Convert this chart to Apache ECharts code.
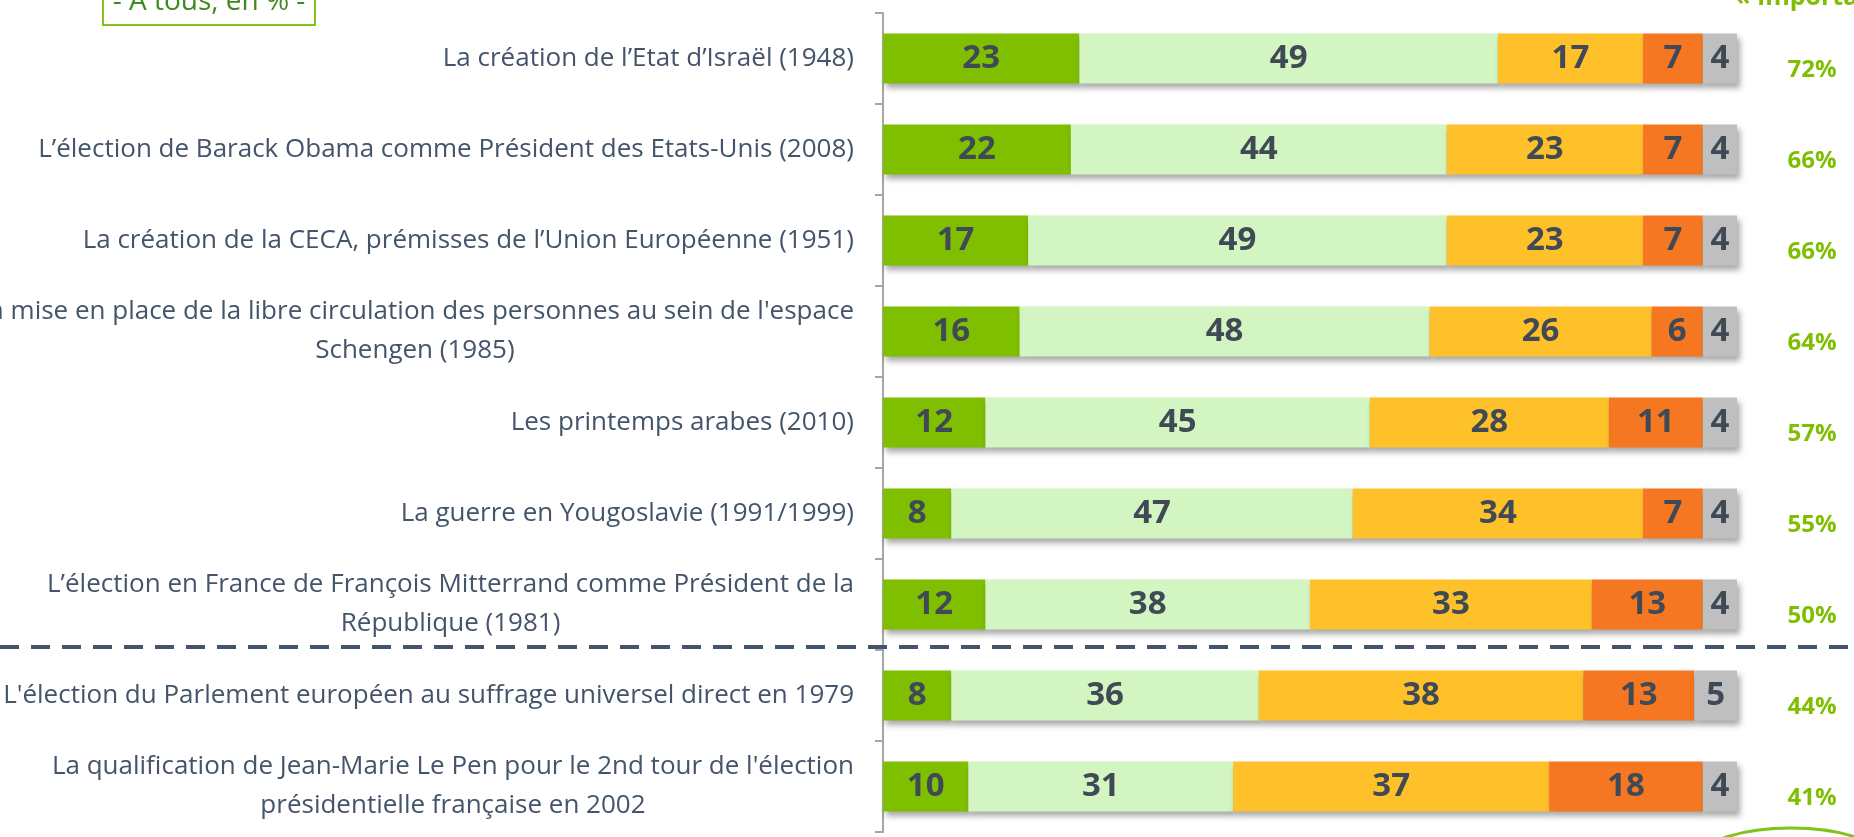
<!DOCTYPE html>
<html>
<head>
<meta charset="utf-8">
<title>Evénements importants</title>
<script src="https://cdn.jsdelivr.net/npm/echarts@6/dist/echarts.min.js"></script>
<style>
  html, body { margin: 0; padding: 0; background: #fff; }
  #chart { width: 1854px; height: 837px; }
</style>
</head>
<body>
<div id="chart"></div>
<script>
// catégories (de haut en bas)
const categories = [
  'La création de l’Etat d’Israël (1948)',
  'L’élection de Barack Obama comme Président des Etats-Unis (2008)',
  'La création de la CECA, prémisses de l’Union Européenne (1951)',
  "La mise en place de la libre circulation des personnes au sein de l'espace\nSchengen (1985)",
  'Les printemps arabes (2010)',
  'La guerre en Yougoslavie (1991/1999)',
  'L’élection en France de François Mitterrand comme Président de la\nRépublique (1981)',
  "L'élection du Parlement européen au suffrage universel direct en 1979",
  "La qualification de Jean-Marie Le Pen pour le 2nd tour de l'élection\nprésidentielle française en 2002"
]
const tresImportant = [23, 22, 17, 16, 12, 8, 12, 8, 10]
const assezImportant = [49, 44, 49, 48, 45, 47, 38, 36, 31]
const peuImportant = [17, 23, 23, 26, 28, 34, 33, 38, 37]
const pasImportant = [7, 7, 7, 6, 11, 7, 13, 13, 18]
const nsp = [4, 4, 4, 4, 4, 4, 4, 5, 4]
const totalImportant = ['72%', '66%', '66%', '64%', '57%', '55%', '50%', '44%', '41%']

const textColor = '#44546A'
const font = 'Open Sans'

let chart = echarts.init(document.getElementById('chart'))

function barSeries (name, data, color) {
  return {
    name: name,
    type: 'bar',
    stack: 'total',
    barWidth: 50,
    data: data,
    itemStyle: {
      color: color,
      shadowColor: 'rgba(0,0,0,0.35)',
      shadowBlur: 6,
      shadowOffsetX: 3,
      shadowOffsetY: 4
    },
    label: {
      show: true,
      position: 'inside',
      color: '#404A56',
      fontFamily: font,
      fontWeight: 'bold',
      fontSize: 33
    }
  }
}

chart.setOption({
  animation: false,
  backgroundColor: '#fff',
  grid: {
    left: 883,
    right: 117,
    top: 13,
    bottom: 5,
    containLabel: false,
    outerBoundsMode: 'none'
  },
  xAxis: {
    type: 'value',
    min: 0,
    max: 100,
    show: false
  },
  yAxis: [
    {
      type: 'category',
      inverse: true,
      data: categories,
      offset: 1,
      axisLine: { show: true, lineStyle: { color: '#A6A6A6', width: 2 } },
      axisTick: { show: true, length: 8, lineStyle: { color: '#A6A6A6', width: 2 } },
      splitLine: { show: false },
      axisLabel: {
        interval: 0,
        margin: 28,
        align: 'right',
        formatter: function (v) {
          return v.split('\n').map(function (s) { return '{c|' + s + '}' }).join('\n')
        },
        rich: {
          c: {
            align: 'center',
            color: textColor,
            fontFamily: font,
            fontSize: 26,
            lineHeight: 39
          }
        }
      }
    },
    {
      type: 'category',
      inverse: true,
      position: 'right',
      data: totalImportant,
      axisLine: { show: false },
      axisTick: { show: false },
      splitLine: { show: false },
      axisLabel: {
        interval: 0,
        margin: 75,
        align: 'center',
        verticalAlign: 'top',
        color: '#7FBE00',
        fontFamily: font,
        fontWeight: 'bold',
        fontSize: 24
      }
    }
  ],
  series: [
    barSeries('Très important', tresImportant, '#7FBF00'),
    barSeries('Assez important', assezImportant, '#D3F5C1'),
    barSeries('Peu important', peuImportant, '#FFC12A'),
    barSeries('Pas du tout important', pasImportant, '#F57722'),
    barSeries('Ne se prononce pas', nsp, '#BFBFBF')
  ]
})

let yA = chart.convertToPixel({ yAxisIndex: 0 }, 6)
let yB = chart.convertToPixel({ yAxisIndex: 0 }, 7)
let ySep = (yA + yB) / 2 - 3

chart.setOption({
  graphic: [
    {
      type: 'line',
      shape: { x1: 0, y1: ySep, x2: 1854, y2: ySep },
      style: { stroke: textColor, lineWidth: 4, lineDash: [19, 12] },
      z: 10
    },
    {
      type: 'rect',
      shape: { x: 103, y: -30, width: 212, height: 55 },
      style: { fill: '#fff', stroke: '#7FC31C', lineWidth: 2 },
      z: 10
    },
    {
      type: 'text',
      x: 209,
      y: 16,
      style: {
        text: '- A tous, en % -',
        fill: '#3F8A1E',
        font: '28px "Open Sans"',
        textAlign: 'center',
        textVerticalAlign: 'bottom'
      },
      z: 11
    },
    {
      type: 'text',
      x: 1735,
      y: 10,
      style: {
        text: '« Important »',
        fill: '#7FBE00',
        font: 'bold 25px "Open Sans"',
        textAlign: 'left',
        textVerticalAlign: 'bottom'
      },
      z: 11
    },
    {
      type: 'ellipse',
      shape: { cx: 1791, cy: 858, rx: 90, ry: 30 },
      style: { fill: 'none', stroke: '#7FC31C', lineWidth: 3 },
      z: 10
    }
  ]
})
</script>
</body>
</html>
